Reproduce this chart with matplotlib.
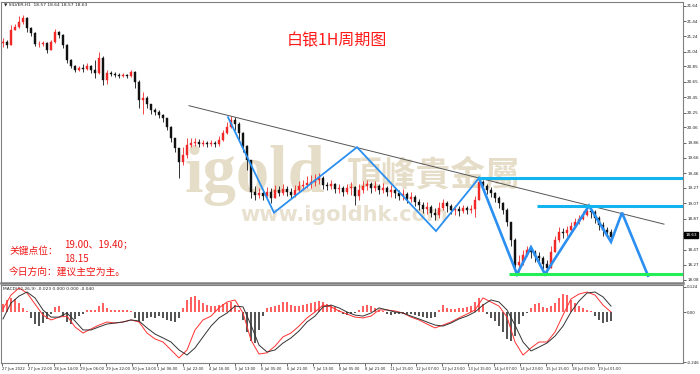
import numpy as np
import matplotlib
matplotlib.use("Agg")
import matplotlib.pyplot as plt

# ---------------- data ----------------
first_open = 21.15
closes = [21.17, 21.13, 21.32, 21.36, 21.43, 21.48, 21.35, 21.29, 21.14, 21.14,
          21.16, 21.06, 21.17, 21.30, 21.26, 21.13, 20.93, 20.86, 20.80, 20.83,
          20.82, 20.86, 20.80, 20.77, 20.96, 20.67, 20.77, 20.75, 20.74, 20.73,
          20.74, 20.73, 20.78, 20.65, 20.41, 20.44, 20.36, 20.28, 20.26, 20.22,
          20.18, 20.06, 19.92, 19.79, 19.61, 19.70, 19.83, 19.86, 19.87, 19.84,
          19.86, 19.84, 19.86, 19.84, 19.89, 19.99, 20.06, 20.15, 20.10, 19.99,
          19.82, 19.63, 19.22, 19.18, 19.21, 19.17, 19.22, 19.14, 19.24, 19.21,
          19.26, 19.22, 19.18, 19.24, 19.30, 19.31, 19.34, 19.35, 19.37, 19.40,
          19.31, 19.30, 19.32, 19.26, 19.27, 19.22, 19.27, 19.28, 19.17, 19.24,
          19.30, 19.32, 19.27, 19.30, 19.24, 19.27, 19.22, 19.24, 19.21, 19.17,
          19.19, 19.13, 19.15, 19.09, 19.05, 19.00, 19.02, 18.95, 18.92, 19.01,
          19.08, 19.04, 18.98, 19.00, 18.97, 19.01, 18.98, 19.00, 19.11, 19.35,
          19.30, 19.24, 19.21, 19.14, 19.08, 18.98, 18.83, 18.59, 18.27, 18.31,
          18.40, 18.46, 18.44, 18.39, 18.36, 18.28, 18.23, 18.44, 18.59, 18.70,
          18.69, 18.72, 18.78, 18.83, 18.87, 18.92, 18.97, 18.96, 18.88, 18.79,
          18.72, 18.70, 18.63]
highs = [21.22, 21.19, 21.39, 21.40, 21.51, 21.52, 21.49, 21.36, 21.30, 21.18,
         21.18, 21.17, 21.19, 21.34, 21.31, 21.27, 21.14, 20.95, 20.87, 20.86,
         20.88, 20.90, 20.87, 20.93, 21.04, 20.99, 20.80, 20.79, 20.78, 20.77,
         20.77, 20.75, 20.80, 20.79, 20.67, 20.52, 20.47, 20.36, 20.31, 20.28,
         20.23, 20.18, 20.08, 19.92, 19.79, 19.80, 19.92, 19.92, 19.92, 19.91,
         19.89, 19.88, 19.89, 19.88, 19.95, 20.02, 20.13, 20.21, 20.19, 20.13,
         20.00, 19.83, 19.63, 19.30, 19.27, 19.26, 19.28, 19.27, 19.31, 19.30,
         19.32, 19.30, 19.27, 19.31, 19.36, 19.37, 19.43, 19.44, 19.45, 19.47,
         19.43, 19.35, 19.37, 19.34, 19.32, 19.30, 19.32, 19.35, 19.30, 19.32,
         19.36, 19.37, 19.35, 19.36, 19.32, 19.34, 19.30, 19.31, 19.28, 19.24,
         19.26, 19.22, 19.22, 19.18, 19.13, 19.09, 19.09, 19.05, 19.01, 19.09,
         19.13, 19.10, 19.06, 19.05, 19.04, 19.05, 19.04, 19.05, 19.17, 19.40,
         19.37, 19.32, 19.28, 19.22, 19.17, 19.09, 19.01, 18.83, 18.62, 18.40,
         18.46, 18.52, 18.50, 18.46, 18.44, 18.39, 18.33, 18.52, 18.65, 18.76,
         18.75, 18.78, 18.83, 18.88, 18.92, 18.97, 19.02, 19.02, 18.98, 18.91,
         18.83, 18.76, 18.74]
lows = [21.10, 21.09, 21.14, 21.32, 21.35, 21.40, 21.30, 21.25, 21.12, 21.10,
        21.12, 21.03, 21.06, 21.16, 21.22, 21.09, 20.90, 20.83, 20.78, 20.79,
        20.78, 20.80, 20.77, 20.70, 20.75, 20.61, 20.62, 20.73, 20.71, 20.70,
        20.71, 20.70, 20.71, 20.57, 20.31, 20.23, 20.31, 20.23, 20.22, 20.18,
        20.13, 20.02, 19.87, 19.74, 19.40, 19.57, 19.66, 19.80, 19.82, 19.80,
        19.82, 19.80, 19.82, 19.80, 19.82, 19.88, 19.97, 20.05, 20.02, 19.89,
        19.74, 19.50, 19.14, 19.11, 19.14, 19.11, 19.15, 19.08, 19.15, 19.17,
        19.18, 19.17, 19.14, 19.15, 19.22, 19.24, 19.27, 19.27, 19.30, 19.32,
        19.26, 19.24, 19.26, 19.21, 19.21, 19.17, 19.19, 19.18, 19.05, 19.11,
        19.21, 19.24, 19.21, 19.23, 19.19, 19.21, 19.17, 19.15, 19.14, 19.11,
        19.11, 19.08, 19.09, 19.04, 18.98, 18.95, 18.93, 18.89, 18.85, 18.88,
        18.98, 18.96, 18.93, 18.92, 18.91, 18.95, 18.93, 18.95, 18.89, 19.11,
        19.24, 19.19, 19.15, 19.09, 19.01, 18.93, 18.78, 18.52, 18.20, 18.18,
        18.27, 18.39, 18.36, 18.31, 18.30, 18.20, 18.18, 18.23, 18.44, 18.57,
        18.62, 18.65, 18.70, 18.75, 18.80, 18.85, 18.91, 18.88, 18.82, 18.72,
        18.65, 18.63, 18.62]

macd_hist = [0.04, 0.06, 0.07, 0.065, 0.045, 0.02, 0.005, -0.03, -0.06, -0.07,
             -0.055, -0.035, -0.01, 0.025, 0.03, -0.02, -0.05, -0.06, -0.035, -0.02,
             -0.01, 0.01, 0.012, 0.01, 0.03, 0.045, 0.02, 0.01, 0.008, 0.01,
             0.008, 0.01, 0.005, -0.03, -0.05, -0.045, -0.03, -0.025, -0.03, -0.02,
             -0.03, -0.04, -0.045, -0.05, -0.03, 0.02, 0.06, 0.075, 0.08, 0.06,
             0.045, 0.035, 0.03, 0.03, 0.035, 0.04, 0.045, 0.05, 0.035, 0.01,
             -0.04, -0.1, -0.14, -0.15, -0.09, -0.02, 0.02, 0.025, 0.03, 0.035,
             0.05, 0.05, 0.035, 0.03, 0.03, 0.035, 0.04, 0.045, 0.05, 0.055,
             0.05, 0.04, 0.035, 0.025, 0.01, -0.01, -0.015, -0.008, -0.005, 0.01,
             0.03, 0.035, 0.03, 0.02, 0.01, 0.005, -0.01, -0.015, -0.01, -0.01,
             -0.012, -0.01, -0.012, -0.015, -0.02, -0.025, -0.03, -0.03, -0.025, 0.01,
             0.035, 0.02, 0.015, 0.015, 0.02, 0.02, 0.025, 0.03, 0.05, 0.07,
             0.04, -0.01, -0.03, -0.045, -0.07, -0.1, -0.13, -0.14, -0.12, -0.06,
             -0.02, -0.005, 0.02, 0.04, 0.045, 0.025, 0.02, 0.03, 0.045, 0.07,
             0.09, 0.085, 0.06, 0.045, 0.03, 0.02, 0.01, 0.005, -0.02, -0.04,
             -0.055, -0.05, -0.045]
macd_red = [0.015, 0.083, 0.118, 0.093, 0.039, -0.015, -0.039, -0.025, -0.020,
            -0.073, -0.103, -0.083, -0.064, -0.049, -0.054, -0.049, -0.039, -0.049, -0.103,
            -0.132, -0.147, -0.186, -0.225, -0.186, -0.088, -0.039, -0.020, 0.020, 0.049,
            0.059, -0.005, -0.137, -0.206, -0.200, -0.167, -0.122, -0.103, -0.069, -0.029,
            0.000, 0.034, 0.025, 0.005, -0.010, -0.025, -0.029, -0.020, 0.010, 0.010,
            0.005, -0.005, -0.025, -0.039, -0.059, -0.078, -0.064, -0.049, -0.029, -0.010,
            0.010, 0.069, 0.049, 0.029, -0.025, -0.147, -0.211, -0.176, -0.147, -0.147,
            -0.098, -0.015, 0.064, 0.088, 0.098, 0.083, 0.034, 0.000]
macd_black = [-0.034, 0.044, 0.078, 0.098, 0.069, 0.010, -0.025, -0.025, -0.005, -0.044,
              -0.088, -0.088, -0.073, -0.059, -0.054, -0.049, -0.039, -0.044, -0.078, -0.108,
              -0.127, -0.147, -0.186, -0.211, -0.176, -0.122, -0.069, -0.029, -0.005, 0.029,
              0.025, -0.064, -0.162, -0.196, -0.186, -0.152, -0.127, -0.093, -0.049, -0.020,
              0.025, 0.034, 0.020, 0.000, -0.015, -0.020, -0.005, 0.020, 0.010, 0.000,
              -0.005, -0.020, -0.034, -0.049, -0.064, -0.069, -0.054, -0.034, -0.020, 0.000,
              0.034, 0.059, 0.049, 0.010, -0.064, -0.147, -0.191, -0.172, -0.152, -0.118,
              -0.069, 0.000, 0.054, 0.093, 0.098, 0.074, 0.029]

time_labels = ["27 Jun 2022", "27 Jun 22:00", "28 Jun 14:00", "29 Jun 06:00", "29 Jun 22:00",
               "30 Jun 14:00", "1 Jul 06:00", "1 Jul 22:00", "4 Jul 16:00", "5 Jul 13:00",
               "6 Jul 05:00", "6 Jul 21:00", "7 Jul 13:00", "8 Jul 05:00", "8 Jul 21:00",
               "11 Jul 15:00", "12 Jul 07:00", "12 Jul 23:00", "13 Jul 15:00", "14 Jul 07:00",
               "14 Jul 23:00", "15 Jul 15:00", "18 Jul 09:00", "19 Jul 01:00"]
price_ticks = [21.64, 21.44, 21.24, 21.04, 20.85, 20.65, 20.45, 20.25, 20.06, 19.86,
               19.66, 19.46, 19.27, 19.07, 18.87, 18.47, 18.27, 18.08]
macd_ticks = [0.124, 0.0, -0.246]
macd_tick_labels = ["0.124", "0.00", "-0.246"]

# annotations (bar index, price)
zigzag_x = [56.25, 67.75, 88.5, 108.25, 119, 128.5, 132, 135.5, 146.5, 152, 154.75, 161.25]
zigzag_y = [20.19, 18.95, 19.80, 18.71, 19.40, 18.15, 18.50, 18.15, 19.04, 18.57, 18.95, 18.13]
trend_x = [46.5, 165.25]
trend_y = [20.34, 18.80]
level_upper = 19.40
level_mid = 19.03
level_support = 18.15
last_price = 18.63

# ---------------- figure ----------------
W, H = 700, 374
fig = plt.figure(figsize=(W / 100, H / 100), dpi=100)
fig.patch.set_facecolor("white")

def fx(px):
    return px / W

def fy(py):
    return 1 - py / H

ax = fig.add_axes([fx(1), fy(283), 682 / W, 281 / H])
axm = fig.add_axes([fx(1), fy(363), 682 / W, 78 / H])

n = len(closes)
x = np.arange(n)
c = np.array(closes)
o = np.concatenate([[first_open], c[:-1]])
h = np.maximum(np.array(highs), np.maximum(o, c))
l = np.minimum(np.array(lows), np.minimum(o, c))
up = c >= o
cols = np.where(up, "#F02828", "#111111")

ax.vlines(x, l, h, colors=cols, linewidth=0.6, zorder=3)
ax.bar(x, np.maximum(np.abs(c - o), 0.006), bottom=np.minimum(o, c), width=0.55,
       color=cols, edgecolor=cols, linewidth=0.3, zorder=3)

# watermark
wm = "#E5DDC7"
ax.text(fx(184), fy(192), "igold", transform=fig.transFigure, fontsize=48,
        family="Liberation Serif", weight="bold", color=wm, ha="left", va="baseline", zorder=0)
ax.text(fx(347), fy(175), "頂峰貴金屬", transform=fig.transFigure, fontsize=25,
        family=["Noto Sans CJK TC", "DejaVu Sans"], weight="bold", color=wm,
        ha="left", va="center", zorder=0)
ax.text(fx(240), fy(221), "www.igoldhk.com", transform=fig.transFigure, fontsize=15,
        family="DejaVu Sans", weight="bold", color="#E8E1CF", ha="left", va="baseline", zorder=0)

# annotation lines
ax.plot(trend_x, trend_y, color="#555555", lw=0.7, zorder=4)
ax.plot(zigzag_x[:5], zigzag_y[:5], color="#2A8FF0", lw=1.3, zorder=5, solid_joinstyle="miter")
ax.plot(zigzag_x[4:], zigzag_y[4:], color="#2A8FF0", lw=1.9, zorder=5, solid_joinstyle="miter")
ax.hlines(level_upper, 118.75, 170, color="#12B4F0", lw=2.2, zorder=5)
ax.hlines(level_mid, 133.5, 170, color="#12B4F0", lw=2.2, zorder=5)
ax.hlines(level_support, 126.5, 170, color="#22EE55", lw=2.2, zorder=5)

ax.set_xlim(-0.5, 170)
ax.set_ylim(18.035, 21.688)
ax.yaxis.tick_right()
ax.set_yticks(price_ticks)
ax.set_yticklabels([f"{v:.2f}" for v in price_ticks])
ax.tick_params(axis="y", labelsize=3.0, length=2, width=0.5, pad=1, colors="#222222")
ax.set_xticks([])
for s in ["left", "top", "right"]:
    ax.spines[s].set_color("#808080")
    ax.spines[s].set_linewidth(0.8)
ax.spines["bottom"].set_color("#808080")
ax.spines["bottom"].set_linewidth(1.8)

# MACD panel
hist = np.array(macd_hist)
hcols = np.where(hist >= 0, "#FF6060", "#555555")
axm.bar(x, hist, width=0.45, color=hcols, linewidth=0, zorder=2)
mx = np.arange(0, n, 2)
axm.plot(mx, macd_red, color="#FF3030", lw=0.7, zorder=3)
axm.plot(mx, macd_black, color="#333333", lw=0.7, zorder=3)
axm.set_xlim(-0.5, 170)
axm.set_ylim(-0.2499, 0.1323)
axm.yaxis.tick_right()
axm.set_yticks(macd_ticks)
axm.set_yticklabels(macd_tick_labels)
axm.tick_params(axis="y", labelsize=2.9, length=2, width=0.5, pad=0.8, colors="#222222")
tick_pos = [(25.9 * k - 1) / 4 for k in range(len(time_labels))]
axm.set_xticks(tick_pos)
axm.set_xticklabels(time_labels)
axm.tick_params(axis="x", labelsize=2.7, length=2, width=0.5, pad=0.8, colors="#222222")
for t in axm.get_xticklabels():
    t.set_horizontalalignment("left")
for s in axm.spines.values():
    s.set_color("#808080")
    s.set_linewidth(0.8)

# headers
fig.text(fx(4), fy(5), "▼ SILVER,H1  18.57 18.64 18.57 18.63", fontsize=3.2,
         color="#222222", va="center", ha="left")
fig.text(fx(3), fy(289), "MACD(12,26,9) -0.023 0.000 0.000 -0.040", fontsize=3.2,
         color="#222222", va="center", ha="left")

# price box
fig.text(fx(691), fy(235), f"{last_price:.2f}", fontsize=3.0, color="white",
         ha="center", va="center",
         bbox=dict(boxstyle="square,pad=0.25", facecolor="black", edgecolor="black"))

# title and notes
cjk = ["Noto Sans CJK SC", "DejaVu Sans"]
fig.text(fx(337), fy(41), "白银1H周期图", fontsize=11.5, family=cjk, color="#FF1A1A",
         ha="center", va="center")
red = "#EE1515"
fig.text(fx(9), fy(251), "关键点位：", fontsize=7, family=cjk, color=red, ha="left", va="center")
fig.text(fx(64), fy(244), "19.00、19.40；", fontsize=7, family=cjk, color=red, ha="left", va="center")
fig.text(fx(64), fy(259), "18.15", fontsize=7, family=cjk, color=red, ha="left", va="center")
fig.text(fx(9), fy(272), "今日方向：建议主空为主。", fontsize=7, family=cjk, color=red,
         ha="left", va="center")

fig.savefig("out.png", dpi=100, facecolor="white")
